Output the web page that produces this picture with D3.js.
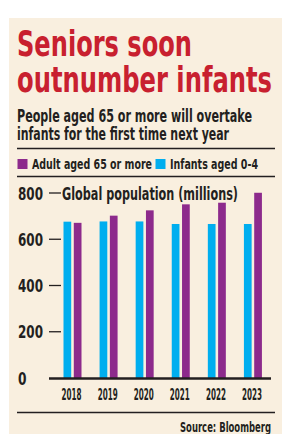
<!DOCTYPE html>
<html><head><meta charset="utf-8">
<script src="https://cdn.jsdelivr.net/npm/d3@7"></script>
<style>html,body{margin:0;padding:0;background:#fff;}svg{display:block;}</style>
</head><body>
<script>
const years = ["2018","2019","2020","2021","2022","2023"];
const seriesNames = ["Infants aged 0-4","Adult aged 65 or more"];
const infants = [676, 677, 677, 666, 666, 666];
const adults = [671, 702, 725, 751, 758, 801];
const yTicks = [0, 200, 400, 600, 800];
const titleLines = ["Seniors soon", "outnumber infants"];
const subtitleLines = ["People aged 65 or more will overtake", "infants for the first time next year"];
const axisTitle = "Global population (millions)";
const source = "Source: Bloomberg";

const W = 282, H = 434;
const RED = "#c8202f", CYAN = "#00aeef", PURPLE = "#8d2a8c", BG = "#f9efdf", INK = "#231f20";
const FONT = "'Liberation Sans Narrow', 'DejaVu Sans Condensed', Roboto, sans-serif";

const svg = d3.select("body").append("svg").attr("width", W).attr("height", H);
svg.append("rect").attr("x", 9).attr("y", 18).attr("width", W - 9).attr("height", H - 18).attr("fill", BG);

// Draw text at (x,y) with visual size `size`; if wider than w, shrink font and stretch vertically.
function txt(parent, x, y, s, size, weight, color, w, anchor) {
  const t = parent.append("text").attr("x", 0).attr("y", 0).text(s)
    .attr("font-family", FONT).attr("font-size", size).attr("font-weight", weight)
    .attr("font-stretch", "condensed")
    .attr("fill", color).attr("text-anchor", anchor || "start");
  let sy = 1;
  if (w) {
    const nat = t.node().getComputedTextLength();
    const k = w / nat;
    if (k < 1) { t.attr("font-size", size * k); sy = 1 / k; }
    t.attr("textLength", w).attr("lengthAdjust", "spacingAndGlyphs");
  }
  t.attr("transform", `translate(${x},${y}) scale(1,${sy})`);
  return t;
}

// Title
txt(svg, 17, 56, titleLines[0], 36, 700, RED, 175);
txt(svg, 17, 92, titleLines[1], 36, 700, RED, 255);
// Subtitle
txt(svg, 17, 121.5, subtitleLines[0], 18.5, 700, INK, 235);
txt(svg, 17, 140, subtitleLines[1], 18.5, 700, INK, 212);
svg.append("line").attr("x1", 17).attr("x2", 275).attr("y1", 148.5).attr("y2", 148.5).attr("stroke", INK).attr("stroke-width", 1.3);

// Legend
svg.append("rect").attr("x", 17.5).attr("y", 159).attr("width", 10).attr("height", 10).attr("fill", PURPLE);
txt(svg, 32, 169, seriesNames[1], 14, 700, INK, 120);
svg.append("rect").attr("x", 155.5).attr("y", 159).attr("width", 10).attr("height", 10).attr("fill", CYAN);
txt(svg, 170, 169, seriesNames[0], 14, 700, INK, 88);
svg.append("line").attr("x1", 17).attr("x2", 275).attr("y1", 176.5).attr("y2", 176.5).attr("stroke", INK).attr("stroke-width", 1.3);

// Scales
const x = d3.scaleBand().domain(years).range([54.5, 271]).padding(0);
const x1 = d3.scaleBand().domain(["inf", "adult"]).range([9, 27]).paddingInner(0.25);
const y = d3.scaleLinear().domain([0, 800]).range([378, 193]);

// Y ticks
const yAxis = svg.append("g");
yAxis.selectAll("line.tick").data(yTicks.filter(d => d > 0)).join("line")
  .attr("x1", 49).attr("x2", 61).attr("y1", d => y(d)).attr("y2", d => y(d))
  .attr("stroke", INK).attr("stroke-width", 1.3);
yTicks.forEach(d => txt(yAxis, 18, y(d) + 6.5, String(d), 17.5, 700, INK, String(d).length === 1 ? 8.5 : 25));

txt(svg, 62, 200, axisTitle, 17, 700, INK, 176);

// Bars
const g = svg.append("g");
g.selectAll("rect.inf").data(years).join("rect")
  .attr("x", d => x(d) + x1("inf")).attr("width", x1.bandwidth())
  .attr("y", (d, i) => y(infants[i])).attr("height", (d, i) => y(0) - y(infants[i]))
  .attr("fill", CYAN);
g.selectAll("rect.ad").data(years).join("rect")
  .attr("x", d => x(d) + x1("adult")).attr("width", x1.bandwidth())
  .attr("y", (d, i) => y(adults[i])).attr("height", (d, i) => y(0) - y(adults[i]))
  .attr("fill", PURPLE);

// Baseline
svg.append("line").attr("x1", 49).attr("x2", 271).attr("y1", y(0) + 0.5).attr("y2", y(0) + 0.5).attr("stroke", INK).attr("stroke-width", 2.5);

// X labels
const xl = svg.append("g");
years.forEach(d => txt(xl, x(d) + x.bandwidth() / 2 - 1, 400, d, 15, 700, INK, 20, "middle"));

svg.append("line").attr("x1", 17).attr("x2", 275).attr("y1", 412.5).attr("y2", 412.5).attr("stroke", INK).attr("stroke-width", 1.3);
txt(svg, 271, 431.5, source, 14, 700, INK, 91, "end");
</script>
</body></html>
